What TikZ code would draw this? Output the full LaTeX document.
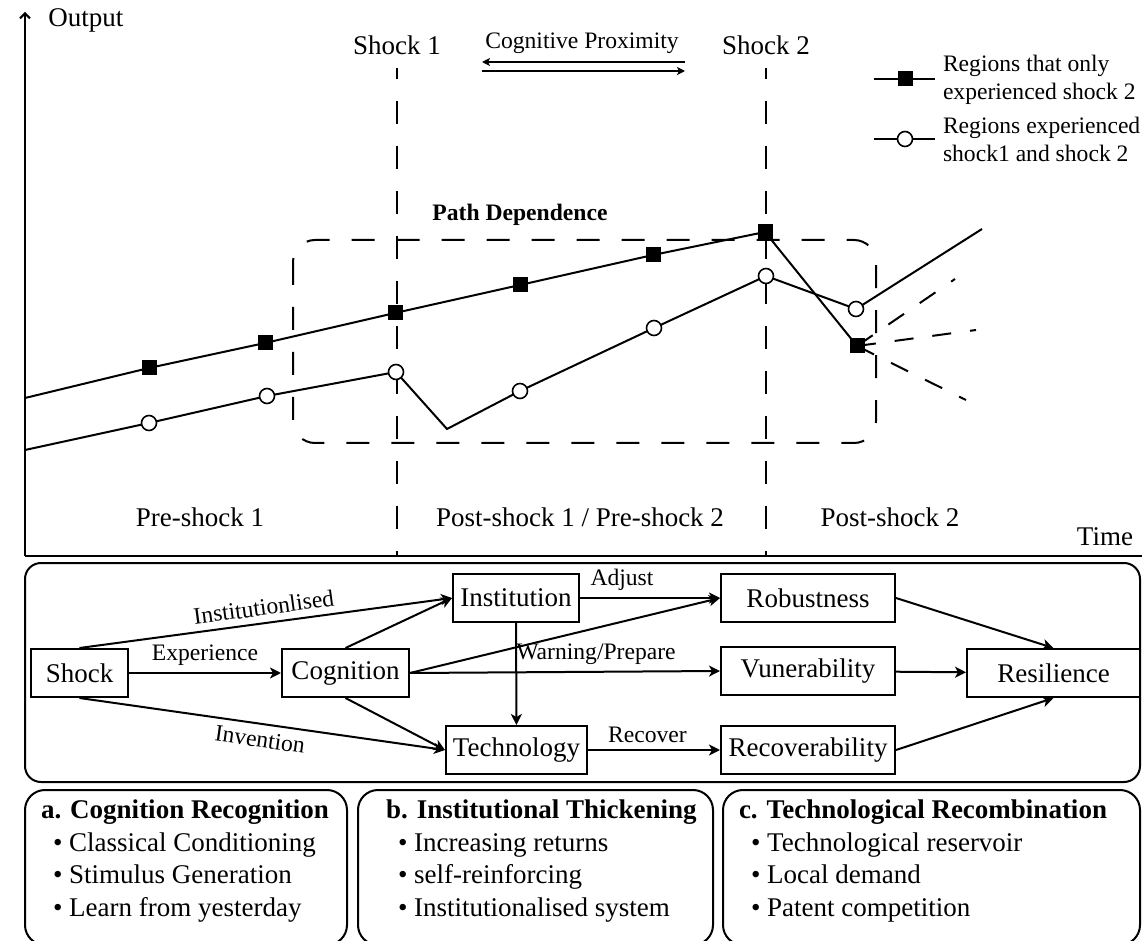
\documentclass[tikz,border=0pt]{standalone}
\usepackage{fontspec}
\setmainfont{Liberation Serif}
\usetikzlibrary{arrows.meta,positioning}

\begin{document}
\begin{tikzpicture}
  [x=0.5pt,y=-0.5pt,line width=1pt,
   every node/.style={font=\fontsize{13.5}{16}\selectfont},
   lbl/.style={font=\fontsize{11.8}{14}\selectfont},
   boldlbl/.style={font=\fontsize{11.8}{14}\selectfont\bfseries},
   box/.style={draw,rectangle,minimum height=24pt,inner xsep=3pt,inner ysep=2pt},
   sq/.style={rectangle,fill=black,minimum size=7.5pt,inner sep=0pt},
   ci/.style={circle,draw,fill=white,minimum size=7.5pt,inner sep=0pt,line width=0.8pt},
   longdash/.style={dash pattern=on 11.5pt off 11pt},
   fandash/.style={dash pattern=on 9.5pt off 9.5pt},
   flow/.style={-{Stealth[length=5.5pt,width=5.5pt,inset=1.5pt]}},
   listtext/.style={anchor=north west,align=left,inner sep=0pt,
       font=\fontsize{13.5}{16.3}\selectfont}]
  \useasboundingbox (0,0) rectangle (1142,941);

  % axes
  \coordinate (O) at (25,556);
  \coordinate (Ytop) at (25,12);
  \coordinate (Xend) at (1142,556);
  \draw[-{Straight Barb[length=2.5pt,width=5pt]}] (O) -- (Ytop);
  \draw (O) -- (Xend);
  \node (out) at (86,20) {Output};
  \node (time) at (1105,537) {Time};

  % shocks
  \node (sh1) at (397,45) {Shock 1};
  \node (sh2) at (766,45) {Shock 2};
  \coordinate (sh1a) at (397,68);
  \coordinate (sh1b) at (397,556);
  \coordinate (sh2a) at (766,68);
  \coordinate (sh2b) at (766,556);
  \draw[longdash,dash phase=6pt] (sh1a) -- (sh1b);
  \draw[longdash,dash phase=6pt] (sh2a) -- (sh2b);
  \node[lbl] (cp) at (582,43) {Cognitive Proximity};
  \coordinate (cpA) at (482,62);
  \coordinate (cpB) at (685,62);
  \coordinate (cpC) at (482,71);
  \coordinate (cpD) at (685,71);
  \draw[-{Stealth[length=4pt,width=4pt,inset=1pt]},line width=0.8pt] (cpB) -- (cpA);
  \draw[-{Stealth[length=4pt,width=4pt,inset=1pt]},line width=0.8pt] (cpC) -- (cpD);

  % legend
  \coordinate (L1a) at (874,79);
  \coordinate (L1b) at (935,79);
  \coordinate (L2a) at (874,139);
  \coordinate (L2b) at (935,139);
  \draw (L1a) -- (L1b);
  \draw (L2a) -- (L2b);
  \node[sq] (L1m) at (905,79) {};
  \node[ci] (L2m) at (905,139) {};
  \node[lbl,anchor=west,align=left,inner sep=0pt] (L1t) at (942,80) {Regions that only\\experienced shock 2};
  \node[lbl,anchor=west,align=left,inner sep=0pt] (L2t) at (942,139) {Regions experienced\\shock1 and shock 2};

  % path dependence window
  \node[boldlbl] (pd) at (520,215) {Path Dependence};
  \draw[longdash,rounded corners=11pt] (293,240) rectangle (876,443);

  % output paths
  \coordinate (S0) at (25,398);
  \coordinate (S1) at (149,368);
  \coordinate (S2) at (265,343);
  \coordinate (S3) at (395,313);
  \coordinate (S4) at (520,285);
  \coordinate (S5) at (653,255);
  \coordinate (S6) at (765,232);
  \coordinate (S7) at (857,346);
  \coordinate (C0) at (25,450);
  \coordinate (C1) at (149,423);
  \coordinate (C2) at (267,396);
  \coordinate (C3) at (396,372);
  \coordinate (C4) at (447,429);
  \coordinate (C5) at (520,391);
  \coordinate (C6) at (654,328);
  \coordinate (C7) at (766,276);
  \coordinate (C8) at (856,309);
  \coordinate (Cend) at (982,229);
  \coordinate (F1) at (955,279);
  \coordinate (F2) at (976,330);
  \coordinate (F3) at (966,400);
  \draw (S0) -- (S1) -- (S2) -- (S3) -- (S4) -- (S5) -- (S6) -- (S7);
  \draw (C0) -- (C1) -- (C2) -- (C3) -- (C4) -- (C5) -- (C6) -- (C7) -- (C8) -- (Cend);
  \foreach \f in {F1,F2,F3}
    \draw[fandash] (S7) -- (\f);
  \foreach \p in {S1,S2,S3,S4,S5,S6,S7}
    \node[sq] (m\p) at (\p) {};
  \foreach \p in {C1,C2,C3,C5,C6,C7,C8}
    \node[ci] (m\p) at (\p) {};

  % phases
  \node (pre1) at (200,517) {Pre-shock 1};
  \node (post1) at (580,517) {Post-shock 1 / Pre-shock 2};
  \node (post2) at (890,517) {Post-shock 2};

  % mechanism
  \draw[rounded corners=8pt] (25,563) rectangle (1140,782);
  \node[box,minimum width=48.5pt] (shock) at (79.5,673) {Shock};
  \node[box,minimum width=63.5pt] (cognition) at (345.5,673) {Cognition};
  \node[box,minimum width=63pt] (institution) at (516,598) {Institution};
  \node[box,minimum width=70.5pt] (technology) at (516.5,750) {Technology};
  \node[box,minimum width=87pt] (robustness) at (808,598) {Robustness};
  \node[box,minimum width=87pt] (vunerability) at (808,671) {Vunerability};
  \node[box,minimum width=87pt] (recoverability) at (808,750) {Recoverability};
  \node[box,minimum width=86.5pt] (resilience) at (1053.5,673) {Resilience};

  \draw[flow] (shock) -- node[lbl,above] {Experience} (cognition);
  \draw[flow] (shock.north) -- node[lbl,above,sloped] {Institutionlised} (institution.west);
  \draw[flow] (shock.south) -- node[lbl,below,sloped] {Invention} (technology.west);
  \draw[flow] (cognition.north) -- (institution.west);
  \draw[flow] (cognition.south) -- (technology.west);
  \draw[flow] (cognition.east) -- (robustness.west);
  \draw[flow] (cognition.east) -- node[lbl,above,pos=0.6] {Warning/Prepare} (vunerability.west);
  \draw[flow] (institution) -- node[lbl,above,pos=0.3] {Adjust} (robustness);
  \draw[flow] (institution) -- (technology);
  \draw[flow] (technology) -- node[lbl,above,pos=0.45] {Recover} (recoverability);
  \draw[flow] (robustness.east) -- (resilience.north);
  \draw[flow] (vunerability) -- (resilience);
  \draw[flow] (recoverability.east) -- (resilience.south);

  % mechanisms in detail
  \draw[rounded corners=10pt] (25,790) rectangle (347,945);
  \draw[rounded corners=10pt] (358,790) rectangle (713,945);
  \draw[rounded corners=10pt] (723,790) rectangle (1140,945);
  \node[listtext] (lista) at (40,799) {\textbf{a. Cognition Recognition}\\
    \hspace*{6pt}\textbullet\ Classical Conditioning\\
    \hspace*{6pt}\textbullet\ Stimulus Generation\\
    \hspace*{6pt}\textbullet\ Learn from yesterday};
  \node[listtext] (listb) at (385,799) {\textbf{b. Institutional Thickening}\\
    \hspace*{6pt}\textbullet\ Increasing returns\\
    \hspace*{6pt}\textbullet\ self-reinforcing\\
    \hspace*{6pt}\textbullet\ Institutionalised system};
  \node[listtext] (listc) at (738,799) {\textbf{c. Technological Recombination}\\
    \hspace*{6pt}\textbullet\ Technological reservoir\\
    \hspace*{6pt}\textbullet\ Local demand\\
    \hspace*{6pt}\textbullet\ Patent competition};
\end{tikzpicture}
\end{document}
